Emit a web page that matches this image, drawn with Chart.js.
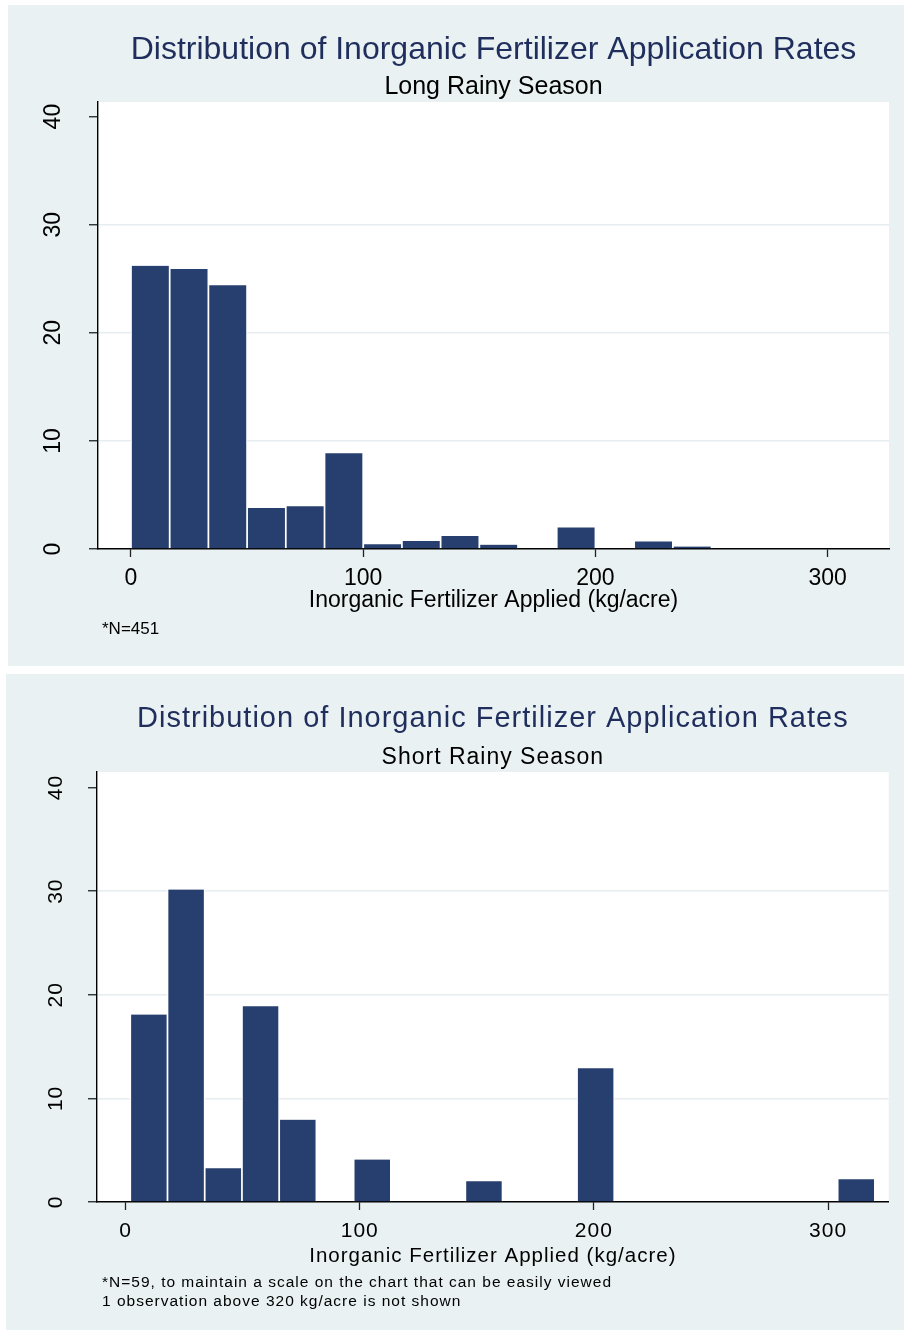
<!DOCTYPE html>
<html>
<head>
<meta charset="utf-8">
<title>Distribution of Inorganic Fertilizer Application Rates</title>
<script src="https://cdn.jsdelivr.net/npm/chart.js@4.4.1/dist/chart.umd.min.js"></script>
<style>
  html, body { margin: 0; padding: 0; background: #ffffff; width: 904px; height: 1332px; overflow: hidden; }
  body { position: relative; font-family: "Liberation Sans", Arial, sans-serif; }
  .panel { position: absolute; background: #e9f1f3; }
  #panelLong  { left: 8px; top: 5px;   width: 896px; height: 661px; }
  #panelShort { left: 6px; top: 674px; width: 898px; height: 656px; }
  .panel canvas { position: absolute; left: 0; top: 0; }
  .note { position: absolute; color: #000; white-space: nowrap; }
  #noteLong  { left: 94px; top: 614px; font-size: 17px; line-height: 20px; }
  #noteShort { left: 96px; top: 599px; font-size: 15.5px; line-height: 18.5px; letter-spacing: 1px; }
</style>
</head>
<body>
<div class="panel" id="panelLong">
  <canvas id="chartLong" width="896" height="661"></canvas>
  <div class="note" id="noteLong">*N=451</div>
</div>
<div class="panel" id="panelShort">
  <canvas id="chartShort" width="898" height="656"></canvas>
  <div class="note" id="noteShort">*N=59, to maintain a scale on the chart that can be easily viewed<br>1 observation above 320 kg/acre is not shown</div>
</div>

<script>
// Histogram bins (kg/acre) and the percent of plots falling in each bin.
const longRainsBinEdges = [0, 16.67, 33.33, 50, 66.67, 83.33, 100, 116.67, 133.33, 150, 166.67, 183.33, 200, 216.67, 233.33, 250];
const longRainsPercent  = [26.2, 25.9, 24.4, 3.8, 3.95, 8.85, 0.43, 0.74, 1.2, 0.4, 0, 2.0, 0, 0.7, 0.22];

const shortRainsBinEdges = [2, 17.9, 33.8, 49.7, 65.6, 81.5, 97.4, 113.3, 129.2, 145.1, 161, 176.9, 192.8, 208.7, 224.6, 240.5, 256.4, 272.3, 288.2, 304.1, 320];
const shortRainsPercent  = [18.1, 30.15, 3.25, 18.9, 7.95, 0, 4.1, 0, 0, 2.0, 0, 0, 12.9, 0, 0, 0, 0, 0, 0, 2.2];

const yTickValues = [0, 10, 20, 30, 40];
const xTickValues = [0, 100, 200, 300];

const MAIN_TITLE = 'Distribution of Inorganic Fertilizer Application Rates';
const X_TITLE = 'Inorganic Fertilizer Applied (kg/acre)';

const BAR_FILL = '#273f6e';
const TITLE_NAVY = '#1f2e5c';
const GRID = '#e6eef1';

Chart.defaults.font.family = '"Liberation Sans", Arial, sans-serif';
Chart.defaults.color = '#000';

// White plot region behind the bars.
const plotBackground = {
  id: 'plotBackground',
  beforeDraw(chart, args, opts) {
    const { ctx, chartArea: a } = chart;
    ctx.save();
    ctx.fillStyle = opts.color || '#fff';
    ctx.fillRect(a.left, a.top, a.right - a.left, a.bottom - a.top);
    ctx.restore();
  }
};

// Tracking applied to every piece of canvas text in a chart.
const textSpacing = {
  id: 'textSpacing',
  beforeLayout(chart, args, opts) { chart.ctx.letterSpacing = opts.spacing || '0px'; },
  beforeDraw(chart, args, opts) { chart.ctx.letterSpacing = opts.spacing || '0px'; }
};

function histogramDataset(edges, values) {
  return {
    data: values.map((v, i) => ({ x: (edges[i] + edges[i + 1]) / 2, y: v })),
    backgroundColor: BAR_FILL,
    borderColor: '#ffffff',
    borderWidth: { left: 1.2, right: 1.2, top: 0, bottom: 0 },
    borderSkipped: false,
    barPercentage: 1,
    categoryPercentage: 1
  };
}

function buildChart(canvasId, edges, values, cfg) {
  return new Chart(document.getElementById(canvasId), {
    type: 'bar',
    data: { datasets: [histogramDataset(edges, values)] },
    plugins: [textSpacing, plotBackground],
    options: {
      responsive: false,
      animation: false,
      devicePixelRatio: 1,
      events: [],
      layout: { padding: { top: 0, left: 0, right: cfg.padRight, bottom: cfg.padBottom } },
      plugins: {
        legend: { display: false },
        tooltip: { enabled: false },
        textSpacing: { spacing: cfg.spacing },
        plotBackground: { color: '#ffffff' },
        title: {
          display: true, text: MAIN_TITLE, fullSize: false, color: TITLE_NAVY,
          font: { size: cfg.titleSize, weight: 'normal' },
          padding: { top: cfg.titlePadTop, bottom: cfg.titlePadBottom }
        },
        subtitle: {
          display: true, text: cfg.subtitle, fullSize: false, color: '#000',
          font: { size: cfg.subtitleSize, weight: 'normal' },
          padding: { top: cfg.subPadTop, bottom: cfg.subPadBottom }
        }
      },
      scales: {
        x: {
          type: 'linear', min: cfg.xMin, max: cfg.xMax, offset: false, z: 1,
          afterBuildTicks: s => { s.ticks = xTickValues.map(v => ({ value: v })); },
          afterFit: s => { s.height = cfg.xAxisHeight; },
          grid: { offset: false, drawOnChartArea: false, drawTicks: true, tickLength: 8, tickColor: '#222', tickWidth: 1.3 },
          border: { display: true, color: '#000', width: 1.4 },
          ticks: { font: { size: cfg.tickSize }, color: '#000', padding: cfg.xTickPad, maxRotation: 0, autoSkip: false },
          title: {
            display: true, text: X_TITLE, color: '#000',
            font: { size: cfg.axisTitleSize }, padding: { top: 0, bottom: cfg.xTitlePad }
          }
        },
        y: {
          type: 'linear', min: 0, max: cfg.yMax,
          afterBuildTicks: s => { s.ticks = yTickValues.map(v => ({ value: v })); },
          afterFit: s => { s.width = cfg.yAxisWidth; },
          grid: {
            offset: false,
            color: c => (c.tick && (c.tick.value === 0 || c.tick.value === 40)) ? 'rgba(0,0,0,0)' : GRID,
            lineWidth: 1.5, drawTicks: true, tickLength: 9, tickColor: '#222', tickWidth: 1.3
          },
          border: { display: true, color: '#000', width: 1.4 },
          ticks: {
            font: { size: cfg.tickSize }, color: '#000', padding: cfg.yTickPad,
            minRotation: 90, maxRotation: 90, crossAlign: 'center', autoSkip: false
          }
        }
      }
    }
  });
}

buildChart('chartLong', longRainsBinEdges, longRainsPercent, {
  subtitle: 'Long Rainy Season',
  spacing: '0px',
  titleSize: 32, subtitleSize: 25, tickSize: 23, axisTitleSize: 23,
  titlePadTop: 25.8, titlePadBottom: 1.4, subPadTop: 1.4, subPadBottom: 0,
  padRight: 15, padBottom: 47,
  xAxisHeight: 70, yAxisWidth: 90,
  xTickPad: 7.7, xTitlePad: 4.2, yTickPad: 22.9,
  xMin: -14.2, xMax: 326.4, yMax: 41.35
});

buildChart('chartShort', shortRainsBinEdges, shortRainsPercent, {
  subtitle: 'Short Rainy Season',
  spacing: '1px',
  titleSize: 29, subtitleSize: 23, tickSize: 21, axisTitleSize: 20.5,
  titlePadTop: 27.6, titlePadBottom: 3.9, subPadTop: 3.9, subPadBottom: 0.2,
  padRight: 15.3, padBottom: 58,
  xAxisHeight: 70, yAxisWidth: 91,
  xTickPad: 8.9, xTitlePad: 3, yTickPad: 19.2,
  xMin: -12.2, xMax: 325.9, yMax: 41.5
});
</script>
</body>
</html>
